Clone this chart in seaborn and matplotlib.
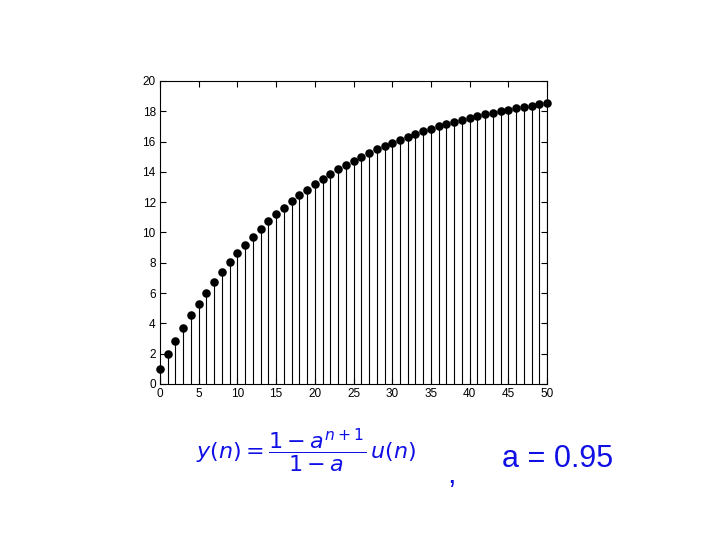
import seaborn as sns
import pandas as pd
import matplotlib.pyplot as plt

# sample index n and y(n) values
n_values = list(range(51))
y_values = [1.00, 1.95, 2.85, 3.71, 4.52, 5.30, 6.03, 6.73, 7.40, 8.03,
            8.62, 9.19, 9.73, 10.25, 10.73, 11.20, 11.64, 12.06, 12.45, 12.83,
            13.19, 13.53, 13.85, 14.16, 14.45, 14.73, 14.99, 15.24, 15.48, 15.71,
            15.92, 16.13, 16.32, 16.50, 16.68, 16.84, 17.00, 17.15, 17.29, 17.43,
            17.56, 17.68, 17.80, 17.91, 18.01, 18.11, 18.21, 18.29, 18.38, 18.46,
            18.54]
x_ticks = [0, 5, 10, 15, 20, 25, 30, 35, 40, 45, 50]
y_ticks = [0, 2, 4, 6, 8, 10, 12, 14, 16, 18, 20]

df = pd.DataFrame({"n": n_values, "y": y_values})

sns.set_theme(style="ticks")
plt.rcParams["font.family"] = ["Liberation Sans", "DejaVu Sans"]

fig = plt.figure(figsize=(7.2, 5.4), dpi=100)
ax = fig.add_axes([0.222, 0.289, 0.538, 0.561])

# stems
ax.vlines(df["n"], 0, df["y"], color="black", linewidth=0.8)
# filled dots on top
sns.scatterplot(data=df, x="n", y="y", ax=ax, color="black", s=38,
                edgecolor="black", linewidth=0, zorder=3, legend=False,
                clip_on=False)

ax.set_xlim(0, 50)
ax.set_ylim(0, 20)
ax.set_xticks(x_ticks)
ax.set_yticks(y_ticks)
ax.set_xlabel("")
ax.set_ylabel("")
ax.tick_params(direction="in", length=4, width=0.8, labelsize=8.5,
               top=True, right=True, colors="black", pad=3)
for spine in ax.spines.values():
    spine.set_visible(True)
    spine.set_color("black")
    spine.set_linewidth(0.8)

# handwritten annotation below the axes
blue = "#1010e6"
fig.text(0.272, 0.165, r"$y(n) = \dfrac{1-a^{n+1}}{1-a}\,u(n)$",
         color=blue, fontsize=16, ha="left", va="center")
fig.text(0.627, 0.12, ",", color=blue, fontsize=22, ha="center", va="center")
fig.text(0.697, 0.15, "a = 0.95", color=blue, fontsize=22,
         ha="left", va="center")

fig.savefig("out.png", dpi=100, facecolor="white")
